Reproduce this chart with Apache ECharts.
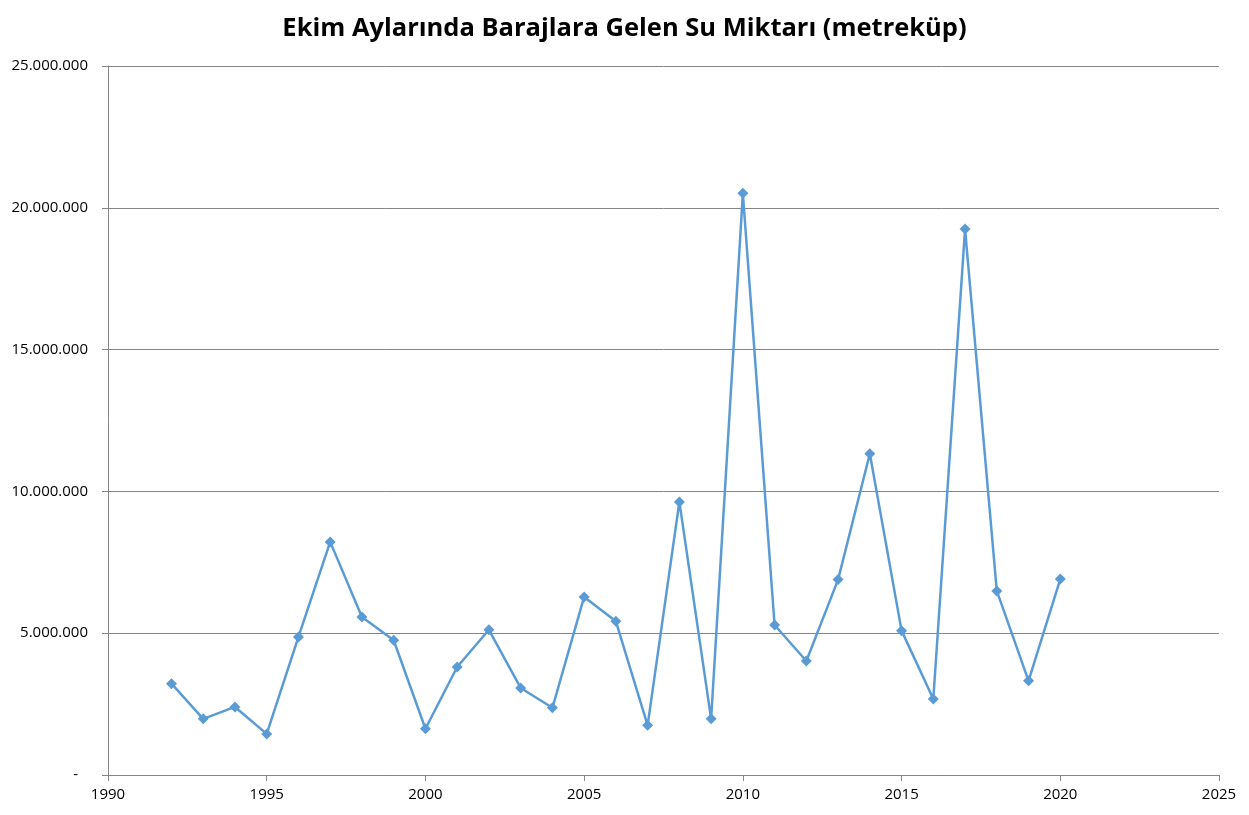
<!DOCTYPE html>
<html>
<head>
<meta charset="utf-8">
<script src="https://cdn.jsdelivr.net/npm/echarts@6/dist/echarts.min.js"></script>
<style>
html,body{margin:0;padding:0;background:#fff;}
#c{width:1249px;height:815px;}
</style>
</head>
<body>
<div id="c"></div>
<script>
var years = [1992,1993,1994,1995,1996,1997,1998,1999,2000,2001,2002,2003,2004,2005,2006,2007,2008,2009,2010,2011,2012,2013,2014,2015,2016,2017,2018,2019,2020];
var values = [3220000,1980000,2400000,1450000,4870000,8220000,5570000,4750000,1630000,3810000,5120000,3070000,2370000,6280000,5420000,1750000,9630000,1980000,20510000,5290000,4020000,6890000,11330000,5090000,2680000,19250000,6490000,3320000,6910000];
var titleText = 'Ekim Aylarında Barajlara Gelen Su Miktarı (metreküp)';

var data = years.map(function(y,i){return [y, values[i]];});
function fmtThousands(v){
  if (v === 0) return '{z|-}';
  return String(Math.round(v)).replace(/\B(?=(\d{3})+(?!\d))/g, '.');
}
var chart = echarts.init(document.getElementById('c'), null, {renderer:'canvas'});
chart.setOption({
  animation:false,
  backgroundColor:'#fff',
  title:{
    text: titleText,
    left:'center',
    top:11,
    textStyle:{fontFamily:'Open Sans',fontWeight:'bold',fontSize:25.5,color:'#000'}
  },
  grid:{left:108,right:30,top:66,bottom:40,containLabel:false},
  xAxis:{
    type:'value',min:1990,max:2025,interval:5,
    axisLine:{show:true,lineStyle:{color:'#868686',width:1}},
    axisTick:{show:true,length:6,lineStyle:{color:'#868686'}},
    splitLine:{show:false},
    axisLabel:{fontFamily:'Open Sans',fontSize:15,color:'#000',margin:12,formatter:function(v){return String(v);}}
  },
  yAxis:{
    type:'value',min:0,max:25000000,interval:5000000,
    axisLine:{show:true,lineStyle:{color:'#868686',width:1}},
    axisTick:{show:true,length:6,lineStyle:{color:'#868686'}},
    splitLine:{show:true,lineStyle:{color:'#868686',width:1}},
    axisLabel:{fontFamily:'Open Sans',fontSize:15,color:'#000',margin:20,formatter:fmtThousands,
      rich:{z:{fontFamily:'Open Sans',fontSize:15,color:'#000',padding:[0,10,0,0]}}}
  },
  series:[{
    type:'line',
    data:data,
    symbol:'diamond',
    symbolSize:11,
    lineStyle:{color:'#5B9BD5',width:2.5},
    itemStyle:{color:'#5B9BD5'},
    z:3
  }]
});
</script>
</body>
</html>
